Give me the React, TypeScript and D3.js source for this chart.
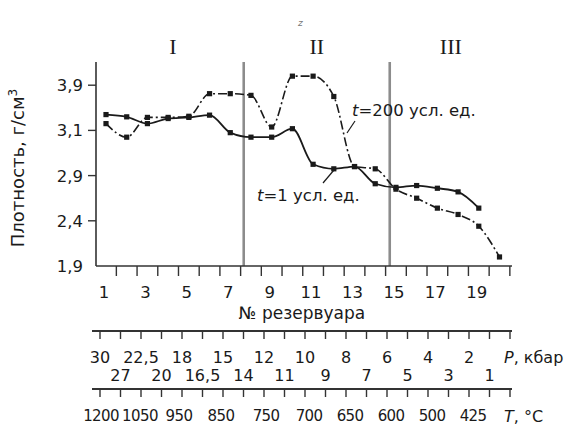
import React from 'react';
import * as d3 from 'd3';

// reservoir numbers and densities (g/cm3)
const reservoirsT1 = [1, 2, 3, 4, 5, 6, 7, 8, 9, 10, 11, 12, 13, 14, 15, 16, 17, 18, 19];
const densityT1 = [3.38, 3.34, 3.22, 3.31, 3.33, 3.37, 3.09, 3.07, 3.07, 3.13, 2.95, 2.93, 2.94, 2.81, 2.77, 2.79, 2.76, 2.72, 2.54];

const reservoirsT200 = [1, 2, 3, 4, 5, 6, 7, 8, 9, 10, 11, 12, 13, 14, 15, 16, 17, 18, 19, 20];
const densityT200 = [3.22, 3.07, 3.33, 3.33, 3.35, 3.75, 3.75, 3.72, 3.16, 4.06, 4.06, 3.7, 2.94, 2.93, 2.75, 2.65, 2.54, 2.47, 2.34, 2.0];

const yTicks = [1.9, 2.4, 2.9, 3.1, 3.9];
const xTicks = [1, 3, 5, 7, 9, 11, 13, 15, 17, 19];
const zoneBounds = [7.65, 14.7];
const zoneNames = ['I', 'II', 'III'];

const pressureLabels = ['30', '27', '22,5', '20', '18', '16,5', '15', '14', '12', '11', '10', '9', '8', '7', '6', '5', '4', '3', '2', '1'];
const tempLabels = ['1200', '1050', '950', '850', '750', '700', '650', '600', '500', '425'];
const tempAt = [0.05, 1.95, 3.85, 5.9, 8.1, 10.2, 12.2, 14.2, 16.2, 18.2];

const W = 568;
const H = 426;
const top = 62;
const bottom = 266;
const left = 96;
const right = 512;
const font = '"DejaVu Sans", sans-serif';
const ink = '#1a1a1a';

const App = () => {
  const x = d3.scaleLinear().domain([1, 20]).range([106, 499.5]);
  const yStep = 45.2;
  const y = d3.scaleLinear().domain(yTicks).range(yTicks.map((_, i) => bottom - i * yStep));
  const xl = d3.scaleLinear().domain([0, 20]).range([100, 510]);

  const lineT1 = d3.line<number>()
    .x((d, i) => x(reservoirsT1[i]))
    .y(d => y(d))
    .curve(d3.curveMonotoneX);
  const lineT200 = d3.line<number>()
    .x((d, i) => x(reservoirsT200[i]))
    .y(d => y(d))
    .curve(d3.curveMonotoneX);

  const bx = zoneBounds.map(b => x(b));
  const zoneMid = [(left + bx[0]) / 2 + 3, (bx[0] + bx[1]) / 2, (bx[1] + right) / 2];

  const pY = 331;
  const tY = 389;

  return (
    <svg width={W} height={H} style={{ position: 'absolute', left: 0, top: 0, background: '#fff' }}
      fontFamily={font} fill={ink}>
      {/* zone separators */}
      {bx.map((v, i) => (
        <line key={'z' + i} x1={v} x2={v} y1={top} y2={bottom} stroke="#8c8c8c" strokeWidth={2.6} />
      ))}
      {zoneNames.map((n, i) => (
        <text key={n} x={zoneMid[i]} y={54} textAnchor="middle" fontFamily='"Liberation Serif", serif' fontSize={22}>{n}</text>
      ))}
      <text x={298} y={26} fontSize={9} fontStyle="italic" fill="#777">z</text>

      {/* y axis */}
      <line x1={left} x2={left} y1={top} y2={bottom} stroke="#333" strokeWidth={1.6} />
      {yTicks.map(t => (
        <g key={t}>
          {t !== yTicks[0] && <line x1={left - 8} x2={left} y1={y(t)} y2={y(t)} stroke="#333" strokeWidth={1.4} />}
          <text x={left - 13} y={y(t)} dy="0.36em" textAnchor="end" fontSize={16.5}>{t.toFixed(1).replace('.', ',')}</text>
        </g>
      ))}
      <text transform={`translate(24,${168}) rotate(-90)`} textAnchor="middle" fontSize={18}>
        Плотность, г/см<tspan dy="-7" fontSize={12}>3</tspan>
      </text>

      {/* x axis */}
      <line x1={left} x2={right} y1={bottom} y2={bottom} stroke="#333" strokeWidth={1.6} />
      {d3.range(1.5, 21, 1).map(t => (
        <line key={t} x1={x(t)} x2={x(t)} y1={bottom} y2={bottom + 10} stroke="#333" strokeWidth={1.4} />
      ))}
      {xTicks.map(t => (
        <text key={t} x={x(t) - 2} y={292} dy="0.36em" textAnchor="middle" fontSize={16.5}>{t}</text>
      ))}
      <text x={302} y={313} dy="0.36em" textAnchor="middle" fontSize={17}>№ резервуара</text>

      {/* pressure axis */}
      <line x1={92} x2={right} y1={pY} y2={pY} stroke="#333" strokeWidth={2} />
      {d3.range(0, 21).map(i => (
        <line key={i} x1={xl(i)} x2={xl(i)} y1={pY} y2={pY + 8} stroke="#333" strokeWidth={1.4} />
      ))}
      {pressureLabels.map((l, i) => (
        <text key={l} x={xl(i)} y={i % 2 === 0 ? 357 : 375} dy="0.36em" textAnchor="middle" fontSize={16}>{l}</text>
      ))}
      <text x={504} y={357} dy="0.36em" fontSize={16}><tspan fontStyle="italic">P</tspan>, кбар</text>

      {/* temperature axis */}
      <line x1={92} x2={right} y1={tY} y2={tY} stroke="#333" strokeWidth={2} />
      {d3.range(0, 21).map(i => (
        <line key={i} x1={xl(i)} x2={xl(i)} y1={tY} y2={tY + 8} stroke="#333" strokeWidth={1.4} />
      ))}
      {tempLabels.map((l, i) => (
        <text key={l} x={xl(tempAt[i])} y={416} dy="0.36em" textAnchor="middle" fontSize={15} letterSpacing={-0.6}>{l}</text>
      ))}
      <text x={504} y={416} dy="0.36em" fontSize={16}><tspan fontStyle="italic">T</tspan>, °C</text>

      {/* series */}
      <path d={lineT200(densityT200) || ''} fill="none" stroke={ink} strokeWidth={1.6} strokeDasharray="9,3,2,3" />
      <path d={lineT1(densityT1) || ''} fill="none" stroke={ink} strokeWidth={1.8} />
      {densityT200.map((d, i) => (
        <rect key={'a' + i} x={x(reservoirsT200[i]) - 2.6} y={y(d) - 2.6} width={5.2} height={5.2} fill={ink} />
      ))}
      {densityT1.map((d, i) => (
        <rect key={'b' + i} x={x(reservoirsT1[i]) - 2.6} y={y(d) - 2.6} width={5.2} height={5.2} fill={ink} />
      ))}

      {/* annotations */}
      <line x1={355} x2={347} y1={121} y2={133} stroke={ink} strokeWidth={1.2} />
      <text x={352} y={110} dy="0.36em" fontSize={16.5}><tspan fontStyle="italic">t</tspan>=200 усл. ед.</text>
      <line x1={334} x2={323} y1={170} y2={183} stroke={ink} strokeWidth={1.2} />
      <text x={257} y={195} dy="0.36em" fontSize={16.5}><tspan fontStyle="italic">t</tspan>=1 усл. ед.</text>
    </svg>
  );
};

export default App;
